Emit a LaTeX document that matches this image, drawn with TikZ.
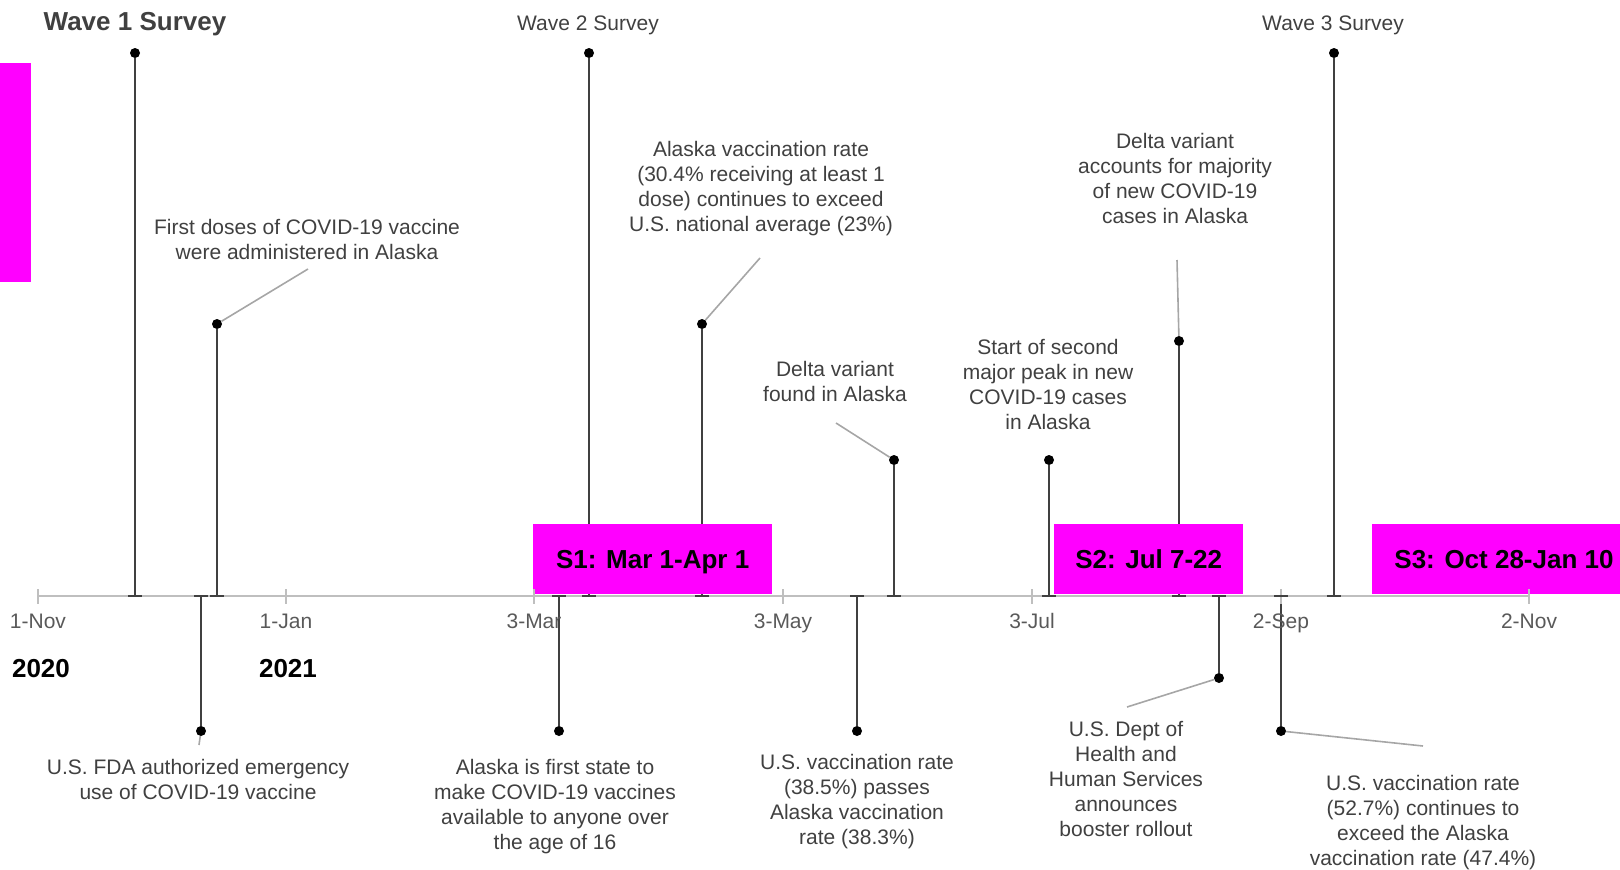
\documentclass[tikz,border=0pt]{standalone}
\usepackage{fontspec}
\setmainfont{Liberation Sans}
\definecolor{pink}{HTML}{FF00FF}
\definecolor{txtgray}{HTML}{404040}
\definecolor{tickgray}{HTML}{595959}
\definecolor{stemgray}{HTML}{404040}
\definecolor{leadgray}{HTML}{A6A6A6}
\definecolor{axisgray}{HTML}{BFBFBF}
\begin{document}
\begin{tikzpicture}[x=1pt,y=-1pt,
  lbl/.style={font=\fontsize{21}{25}\selectfont, text=txtgray, align=center, inner sep=0pt},
  ticklbl/.style={font=\fontsize{21}{25}\selectfont, text=tickgray, inner sep=0pt, text height=15pt, text depth=4pt},
  yearlbl/.style={font=\bfseries\fontsize{26}{30}\selectfont, text=black, inner sep=0pt},
  stem/.style={draw=stemgray, line width=2pt},
  capline/.style={draw=stemgray, line width=2pt},
  leader/.style={draw=leadgray, line width=1.6pt},
  dot/.style={circle, fill=black, inner sep=0pt, minimum size=10pt},
  pinkbox/.style={fill=pink, draw=none, font=\bfseries\fontsize{26}{30}\selectfont, text=black, inner sep=0pt, text height=19pt, text depth=0pt, anchor=north west},
  boxtext/.style={font=\bfseries\fontsize{26}{30}\selectfont, text=black, inner sep=0pt, text height=19pt, text depth=0pt},
  axisline/.style={draw=axisgray, line width=2pt},
  datetick/.style={draw=axisgray, line width=1.5pt}]
\useasboundingbox (0,0) rectangle (1620,870);

% ---- stems (above) ----
\coordinate (w1a) at (135,596);  \node[dot] (w1d) at (135,53) {};
\coordinate (fda) at (217,596);  \node[dot] (fdd) at (217,324) {};
\coordinate (w2a) at (589,596);  \node[dot] (w2d) at (589,53) {};
\coordinate (ava) at (702,596);  \node[dot] (avd) at (702,324) {};
\coordinate (dfa) at (894,596);  \node[dot] (dfd) at (894,460) {};
\coordinate (spa) at (1049,596); \node[dot] (spd) at (1049,460) {};
\coordinate (daa) at (1179,596); \node[dot] (dad) at (1179,341) {};
\coordinate (w3a) at (1334,596); \node[dot] (w3d) at (1334,53) {};
% ---- stems (below) ----
\coordinate (fza) at (201,596);  \node[dot] (fzd) at (201,731) {};
\coordinate (afa) at (559,596);  \node[dot] (afd) at (559,731) {};
\coordinate (usa) at (857,596);  \node[dot] (usd) at (857,731) {};
\coordinate (hha) at (1219,596); \node[dot] (hhd) at (1219,678) {};
\coordinate (u5a) at (1281,596); \node[dot] (u5d) at (1281,731) {};

\foreach \a/\d in {w1a/w1d,fda/fdd,w2a/w2d,ava/avd,dfa/dfd,spa/spd,daa/dad,w3a/w3d,fza/fzd,afa/afd,usa/usd,hha/hhd,u5a/u5d}
  \draw[stem] (\a) -- (\d);

% ---- pink boxes ----
\path[fill=pink] (0,63) rectangle (31,282);
\node[pinkbox, minimum width=239pt, minimum height=70pt] (s1) at (533,524) {S1: Mar 1-Apr 1};
\node[pinkbox, minimum width=189pt, minimum height=70pt] (s2) at (1054,524) {S2: Jul 7-22};
\path[fill=pink] (1372,524) rectangle (1620,594);
\node[boxtext] (s3) at (1504,559) {S3: Oct 28-Jan 10};

% ---- axis ----
\coordinate (axL) at (38,596);
\coordinate (axR) at (1530,596);
\draw[axisline] (axL) -- (axR);
\foreach \x/\t in {38/1-Nov,286/1-Jan,534/3-Mar,783/3-May,1032/3-Jul,1281/2-Sep,1529/2-Nov}{
  \draw[datetick] (\x,589) -- (\x,604);
  \node[ticklbl] at (\x,623) {\t};
}
\foreach \a in {w1a,fda,w2a,ava,dfa,spa,daa,w3a,fza,afa,usa,hha,u5a}
  \draw[capline] ([xshift=-7pt]\a) -- ([xshift=7pt]\a);

\node[yearlbl] (y20) at (41,669) {2020};
\node[yearlbl] (y21) at (288,669) {2021};

% ---- labels ----
\node[lbl, font=\bfseries\fontsize{26}{30}\selectfont] (w1t) at (135,24) {Wave 1 Survey};
\node[lbl] (w2t) at (588,25) {Wave 2 Survey};
\node[lbl] (w3t) at (1333,25) {Wave 3 Survey};

\node[lbl] (fdt) at (307,239) {First doses of COVID-19 vaccine\\were administered in Alaska};
\coordinate (fdl) at (308,269);
\draw[leader] (fdd) -- (fdl);

\node[lbl] (fzt) at (198,779) {U.S. FDA authorized emergency\\use of COVID-19 vaccine};
\coordinate (fzl) at (199,745);
\draw[leader] (fzd) -- (fzl);

\node[lbl] (aft) at (555,807) {Alaska is first state to\\make COVID-19 vaccines\\available to anyone over\\the age of 16};

\node[lbl] (avt) at (761,189) {Alaska vaccination rate\\(30.4\% receiving at least 1\\dose) continues to exceed\\U.S. national average (23\%)};
\coordinate (avl) at (760,258);
\draw[leader] (avd) -- (avl);

\node[lbl] (dft) at (835,381) {Delta variant\\found in Alaska};
\coordinate (dfl) at (836,423);
\draw[leader] (dfd) -- (dfl);

\node[lbl] (ust) at (857,802) {U.S. vaccination rate\\(38.5\%) passes\\Alaska vaccination\\rate (38.3\%)};

\node[lbl] (spt) at (1048,384) {Start of second\\major peak in new\\COVID-19 cases\\in Alaska};

\node[lbl] (dat) at (1175,178) {Delta variant\\accounts for majority\\of new COVID-19\\cases in Alaska};
\coordinate (dal) at (1177,260);
\draw[leader] (dad) -- (dal);

\node[lbl] (hht) at (1126,779) {U.S. Dept of\\Health and\\Human Services\\announces\\booster rollout};
\coordinate (hhl) at (1127,707);
\draw[leader] (hhd) -- (hhl);

\node[lbl] (u5t) at (1423,823) {U.S. vaccination rate\\(52.7\%) continues to\\exceed the Alaska\\vaccination rate (47.4\%)};
\coordinate (u5l) at (1423,746);
\draw[leader] (u5d) -- (u5l);
\end{tikzpicture}
\end{document}
